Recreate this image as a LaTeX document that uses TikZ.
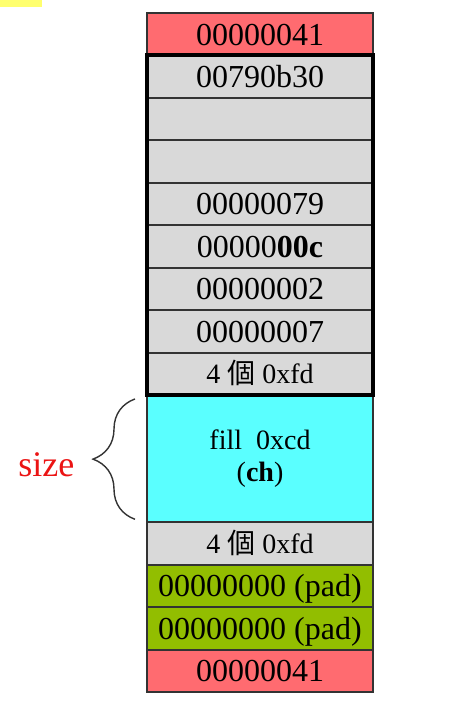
\documentclass[tikz,border=0pt]{standalone}
\usepackage{fontspec}
\setmainfont{Liberation Serif}
\newfontfamily\cjkfont{Noto Sans CJK TC}
\usepackage{tikz}
\usetikzlibrary{positioning, fit, decorations.pathreplacing}
\definecolor{headerred}{RGB}{255,107,112}
\definecolor{cellgray}{RGB}{217,217,217}
\definecolor{usercyan}{RGB}{90,255,255}
\definecolor{padgreen}{RGB}{146,190,0}
\definecolor{markyellow}{RGB}{255,255,110}
\definecolor{sizered}{RGB}{235,20,20}
\tikzset{
    cellbase/.style={rectangle, draw=black!80, line width=1pt, fill=cellgray,
                     minimum width=113pt, minimum height=21.22pt, inner sep=0pt,
                     outer sep=0pt, text centered, align=center},
    cell/.style={cellbase, text height=10.8pt, text depth=0pt,
                 font=\fontsize{16}{18}\selectfont},
    header/.style={cell, fill=headerred},
    guard/.style={cell, text height=9.5pt, font=\fontsize{14}{16}\selectfont},
    userdata/.style={cellbase, fill=usercyan, minimum height=63.66pt,
                     font=\fontsize{14}{16.5}\selectfont},
    pad/.style={cell, fill=padgreen},
    brace/.style={decorate, decoration={brace, amplitude=21pt}, line width=0.7pt, draw=black!80}
}

\begin{document}
\begin{tikzpicture}[node distance=0pt]
    \useasboundingbox (0,0) rectangle (228pt,-355pt);
    \fill[markyellow] (0,0) rectangle (21pt,-3.5pt);

    \node[header] (hdrtop) at (130pt,-17.11pt) {00000041};
    \node[cell, below=of hdrtop] (next) {00790b30};
    \node[cell, below=of next] (prev) {};
    \node[cell, below=of prev] (file) {};
    \node[cell, below=of file] (line) {00000079};
    \node[cell, below=of line] (datasize) {00000\textbf{00c}};
    \node[cell, below=of datasize] (blockuse) {00000002};
    \node[cell, below=of blockuse] (request) {00000007};
    \node[guard, below=of request] (gapfront) {4 {\cjkfont 個} 0xfd};
    \node[userdata, below=of gapfront] (data) {fill~~0xcd\\(\textbf{ch})};
    \node[guard, below=of data] (gapback) {4 {\cjkfont 個} 0xfd};
    \node[pad, below=of gapback] (pad1) {00000000 (pad)};
    \node[pad, below=of pad1] (pad2) {00000000 (pad)};
    \node[header, below=of pad2] (hdrbottom) {00000041};

    % block header outline
    \node[draw=black, line width=2pt, fit=(next)(gapfront), inner sep=0pt] (hdrbox) {};

    \coordinate (bracebot) at ([xshift=-6pt,yshift=1.5pt]data.south west);
    \coordinate (bracetop) at ([xshift=-6pt,yshift=-2pt]data.north west);
    \draw[brace] (bracebot) -- node[left=30pt, inner sep=0pt, yshift=-3pt,
        text=sizered, font=\fontsize{18}{20}\selectfont] (sizelabel) {size} (bracetop);
\end{tikzpicture}
\end{document}
